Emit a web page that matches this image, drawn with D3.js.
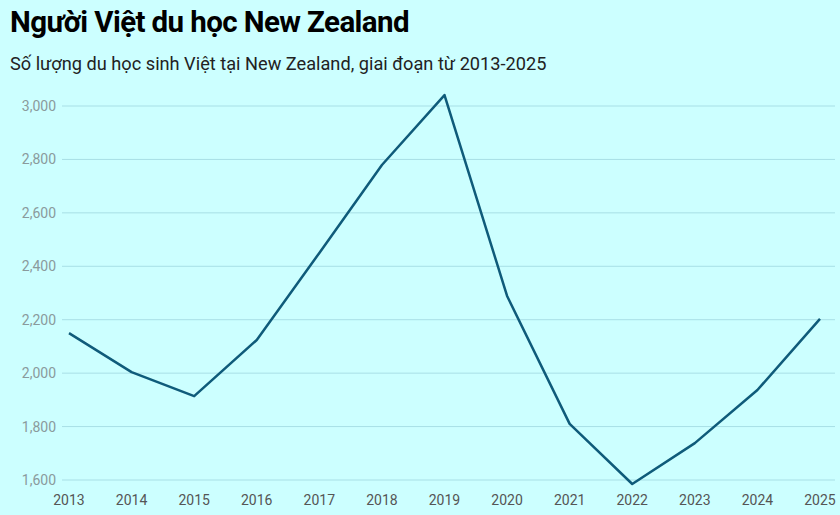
<!DOCTYPE html>
<html><head><meta charset="utf-8">
<script src="https://cdn.jsdelivr.net/npm/d3@7"></script>
<style>body{margin:0;background:#ccffff;font-family:Roboto,sans-serif}</style>
</head><body><svg id="c" width="840" height="515"></svg>
<script>
const years=[2013,2014,2015,2016,2017,2018,2019,2020,2021,2022,2023,2024,2025];
const values=[2150,2004,1914,2124,2450,2779,3041,2289,1810,1585,1738,1937,2203];
const yTicks=[1600,1800,2000,2200,2400,2600,2800,3000];
const svg=d3.select("#c");
svg.append("rect").attr("width",840).attr("height",515).attr("fill","#ccffff");
svg.append("text").attr("x",10).attr("y",32).attr("font-size",29.5).attr("font-weight","bold").attr("fill","#000").attr("letter-spacing","-0.6").text("Người Việt du học New Zealand");
svg.append("text").attr("x",10).attr("y",70).attr("font-size",18.2).attr("fill","#222").text("Số lượng du học sinh Việt tại New Zealand, giai đoạn từ 2013-2025");
const x=d3.scaleLinear().domain([2013,2025]).range([69,820]);
const y=d3.scaleLinear().domain([1600,3000]).range([480,106]);
const g=svg.append("g");
yTicks.forEach(t=>{
 g.append("line").attr("x1",62).attr("x2",835).attr("y1",y(t)).attr("y2",y(t)).attr("stroke","#a8dfe6").attr("stroke-width",1);
 g.append("text").attr("x",56).attr("y",y(t)+5).attr("text-anchor","end").attr("font-size",14).attr("fill","#8a9a9c").text(d3.format(",")(t));
});
years.forEach(yr=>{
 g.append("text").attr("x",x(yr)).attr("y",505).attr("text-anchor","middle").attr("font-size",14).attr("fill","#555").text(yr);
});
svg.append("path").datum(values).attr("fill","none").attr("stroke","#0f5b7a").attr("stroke-width",2.5).attr("stroke-linejoin","round")
 .attr("d",d3.line().x((d,i)=>x(years[i])).y(d=>y(d)));
</script></body></html>
